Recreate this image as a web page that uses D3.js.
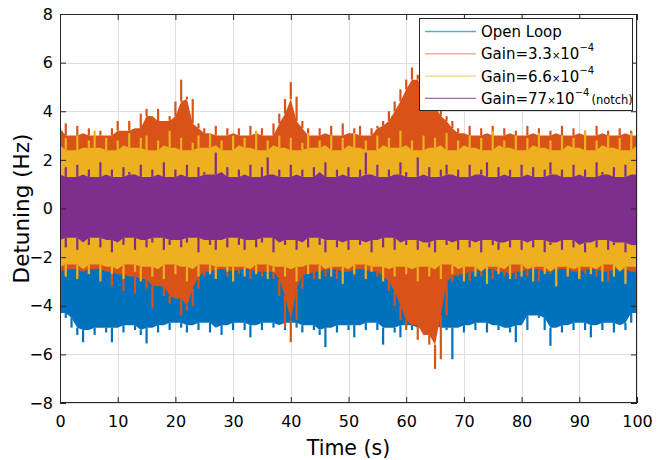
<!DOCTYPE html>
<html>
<head>
<meta charset="utf-8">
<script src="https://cdn.jsdelivr.net/npm/d3@7"></script>
<style>
  html, body { margin: 0; padding: 0; background: #fff; }
  svg { display: block; }
  text { font-family: "DejaVu Sans", "Liberation Sans", sans-serif; fill: #000; }
</style>
</head>
<body>
<svg id="chart" width="657" height="460"></svg>
<script>
// Detuning traces, reduced to per-second peak envelopes (upper / lower), t = 0..100 s.
const timeSec = d3.range(0, 101, 1);

const openLoopHi = [
  1.8, 1.6, 2.0, 1.7, 1.9, 1.6, 2.1, 1.7, 1.8, 1.6,
  1.9, 1.7, 2.0, 1.6, 1.8, 1.7, 2.1, 1.6, 1.9, 1.7,
  1.8, 1.6, 2.0, 1.7, 1.9, 1.6, 1.8, 2.1, 1.7, 1.9,
  1.6, 1.8, 1.7, 2.0, 1.6, 1.9, 1.7, 1.8, 2.1, 1.6,
  1.9, 1.7, 1.8, 1.6, 2.0, 1.7, 1.9, 1.6, 1.8, 2.1,
  1.7, 1.9, 1.6, 1.8, 1.7, 2.0, 1.6, 1.9, 1.7, 1.8,
  2.1, 1.6, 1.9, 1.7, 1.8, 1.6, 2.0, 1.7, 1.9, 1.6,
  1.8, 1.7, 2.1, 1.6, 1.9, 1.7, 1.8, 1.6, 2.0, 1.7,
  1.9, 1.6, 1.8, 2.1, 1.7, 1.9, 1.6, 1.8, 1.7, 2.0,
  1.6, 1.9, 1.7, 1.8, 2.1, 1.6, 1.9, 1.7, 1.8, 1.6,
  1.9
];
const openLoopLo = [
  -4.3, -4.5, -4.9, -5.2, -5.5, -5.0, -5.2, -4.9, -5.1, -5.5,
  -4.9, -5.1, -4.8, -5.0, -5.2, -5.55, -4.9, -5.1, -4.8, -5.0,
  -4.7, -4.9, -5.1, -4.8, -5.0, -4.7, -5.1, -4.9, -5.2, -4.8,
  -5.0, -4.7, -5.0, -5.3, -4.8, -5.0, -4.7, -4.9, -4.8, -5.0,
  -4.7, -4.9, -5.1, -4.8, -5.0, -5.2, -5.7, -4.9, -5.1, -4.8,
  -5.0, -5.3, -4.8, -5.0, -4.7, -5.0, -5.6, -4.9, -5.1, -5.3,
  -4.8, -5.0, -4.9, -5.1, -4.8, -5.0, -4.9, -5.0, -6.2, -4.9,
  -5.1, -4.8, -5.0, -4.7, -5.1, -4.8, -5.0, -4.9, -5.1, -5.5,
  -4.8, -5.0, -4.4, -4.5, -5.0, -5.65, -4.9, -5.1, -4.8, -5.0,
  -4.7, -5.0, -5.3, -4.8, -5.0, -4.7, -5.1, -4.8, -5.0, -4.7,
  -4.3
];

const gain33Hi = [
  3.3, 3.5, 3.0, 3.4, 3.1, 3.3, 3.0, 3.2, 3.0, 3.3,
  3.6, 3.2, 3.6, 3.3, 3.9, 4.1, 3.8, 4.1, 3.6, 3.8,
  4.4, 5.3, 4.6, 4.5, 3.5, 3.3, 3.1, 3.4, 3.0, 3.3,
  3.1, 3.3, 3.0, 3.4, 3.1, 3.3, 3.0, 3.5, 3.9, 4.5,
  5.2, 4.6, 3.6, 3.3, 3.0, 3.3, 3.1, 3.4, 3.0, 3.5,
  3.1, 3.3, 3.4, 3.0, 3.3, 3.4, 3.6, 4.0, 4.4, 4.9,
  5.3, 5.8, 5.5, 5.3, 5.0, 4.6, 4.2, 3.8, 3.6, 3.3,
  3.1, 3.4, 3.0, 3.3, 3.1, 3.4, 3.0, 3.3, 3.1, 3.2,
  3.0, 3.4, 3.1, 3.3, 3.0, 3.2, 3.1, 3.4, 3.0, 3.3,
  3.1, 3.2, 3.0, 3.4, 3.1, 3.2, 3.0, 3.3, 3.1, 3.2,
  3.0
];
const gain33Lo = [
  -2.6, -2.8, -2.5, -2.9, -2.6, -2.7, -2.5, -2.8, -2.6, -3.2,
  -2.7, -3.4, -2.8, -3.5, -2.9, -3.3, -4.1, -3.2, -3.6, -3.9,
  -3.7, -4.4, -4.2, -4.0, -3.3, -2.8, -2.6, -2.9, -2.5, -2.8,
  -2.6, -2.7, -2.5, -2.9, -2.6, -2.8, -2.6, -2.9, -3.6, -4.9,
  -5.5, -4.6, -3.3, -2.7, -2.9, -2.6, -2.8, -2.5, -2.9, -2.7,
  -2.6, -2.8, -2.5, -2.9, -2.6, -2.8, -3.0, -3.4, -4.0, -4.6,
  -5.0, -4.8, -5.4, -5.2, -5.6, -6.6, -6.2, -4.4, -3.0, -2.8,
  -2.7, -3.0, -2.6, -2.8, -2.5, -2.9, -2.6, -2.8, -2.7, -2.9,
  -2.6, -2.8, -2.5, -3.0, -2.6, -2.7, -2.9, -2.5, -2.8, -2.6,
  -2.9, -2.7, -2.5, -2.8, -2.6, -3.0, -2.7, -2.5, -2.8, -2.6,
  -2.7
];

const gain66Hi = [
  2.6, 2.9, 2.4, 3.0, 2.5, 2.8, 3.2, 2.5, 2.9, 2.4,
  2.8, 2.6, 3.1, 2.5, 2.9, 3.0, 2.4, 2.8, 2.6, 3.2,
  2.5, 2.9, 2.4, 2.7, 3.0, 2.5, 3.1, 2.6, 2.8, 2.4,
  3.0, 2.6, 2.9, 2.5, 3.2, 2.4, 2.8, 2.6, 3.0, 2.5,
  2.9, 2.4, 2.7, 3.1, 2.5, 2.8, 2.6, 3.0, 2.4, 2.9,
  2.6, 3.1, 2.5, 2.8, 2.4, 3.0, 2.6, 2.9, 2.5, 3.2,
  2.6, 2.8, 2.4, 3.0, 2.5, 2.9, 2.6, 3.1, 2.4, 2.8,
  2.6, 3.0, 2.5, 2.9, 2.4, 3.2, 2.6, 2.8, 2.5, 3.0,
  2.4, 2.9, 2.6, 3.1, 2.5, 2.8, 2.4, 3.0, 2.6, 2.9,
  2.5, 3.2, 2.4, 2.8, 2.6, 3.0, 2.5, 2.9, 2.4, 3.1,
  2.6
];
const gain66Lo = [
  -2.4, -2.8, -2.3, -2.9, -2.5, -2.7, -2.3, -3.0, -2.4, -2.7,
  -2.5, -2.9, -2.3, -2.6, -3.0, -2.4, -2.8, -2.5, -2.9, -2.3,
  -2.7, -2.4, -3.0, -2.5, -2.8, -2.3, -2.7, -2.9, -2.4, -2.6,
  -3.0, -2.4, -2.8, -2.5, -2.7, -2.3, -2.9, -2.6, -2.4, -2.8,
  -2.5, -3.0, -2.4, -2.7, -2.3, -2.9, -2.5, -2.8, -2.4, -3.1,
  -2.5, -2.7, -2.3, -2.9, -2.6, -2.4, -3.0, -2.5, -2.8, -2.4,
  -2.7, -2.5, -3.0, -2.4, -2.8, -2.5, -2.9, -2.3, -2.7, -2.5,
  -3.0, -2.4, -2.8, -2.6, -3.1, -2.4, -2.7, -2.5, -2.9, -2.3,
  -2.8, -2.5, -3.0, -2.4, -2.7, -2.6, -3.2, -2.4, -2.8, -2.5,
  -2.9, -2.4, -2.7, -2.5, -3.0, -2.3, -2.8, -2.6, -3.1, -2.4,
  -2.7
];

const gain77Hi = [
  1.4, 1.7, 1.3, 1.8, 1.4, 1.6, 1.3, 1.9, 1.4, 1.6,
  1.3, 1.7, 1.5, 1.4, 1.8, 1.3, 1.6, 1.4, 1.9, 1.3,
  1.6, 1.4, 1.8, 1.3, 1.7, 1.5, 1.4, 2.3, 1.5, 1.7,
  1.3, 1.6, 1.4, 1.8, 1.3, 1.7, 2.1, 1.4, 1.6, 1.3,
  1.8, 1.4, 1.6, 1.3, 1.7, 1.5, 1.9, 1.3, 1.6, 1.4,
  1.7, 1.3, 1.6, 2.3, 1.4, 1.8, 1.3, 1.6, 1.4, 1.9,
  1.5, 1.3, 2.1, 1.4, 1.7, 1.3, 1.6, 1.8, 1.4, 1.6,
  1.3, 1.8, 1.4, 1.6, 1.9, 1.3, 1.7, 1.4, 1.6, 1.3,
  1.8, 1.4, 1.7, 1.3, 1.6, 1.9, 1.4, 1.6, 1.3, 1.8,
  1.4, 1.6, 1.3, 1.9, 1.5, 1.4, 1.7, 1.3, 1.8, 1.4,
  1.6
];
const gain77Lo = [
  -1.3, -1.6, -1.2, -1.7, -1.4, -1.5, -1.2, -1.6, -1.3, -1.8,
  -1.4, -1.5, -1.2, -1.7, -1.3, -1.6, -1.4, -1.2, -1.7, -1.5,
  -1.3, -1.6, -1.4, -1.2, -1.8, -1.3, -1.5, -1.7, -1.3, -1.6,
  -1.2, -1.5, -1.7, -1.3, -1.6, -1.4, -1.2, -1.8, -1.4, -1.5,
  -1.3, -1.7, -1.4, -1.6, -1.2, -1.5, -1.8, -1.3, -1.6, -1.4,
  -1.7, -1.3, -1.5, -1.4, -1.8, -1.3, -1.6, -1.2, -1.7, -1.4,
  -1.5, -1.3, -1.7, -1.4, -1.6, -1.8, -1.3, -1.5, -1.4, -1.7,
  -1.3, -1.6, -1.4, -1.8, -1.3, -1.5, -1.7, -1.4, -1.6, -1.3,
  -1.7, -1.4, -1.6, -1.3, -1.8, -1.5, -1.4, -1.7, -1.3, -1.6,
  -1.5, -1.8, -1.4, -1.6, -1.3, -1.7, -1.5, -1.4, -1.8, -1.5,
  -1.6
];

const xTicks = [0, 10, 20, 30, 40, 50, 60, 70, 80, 90, 100];
const yTicks = [-8, -6, -4, -2, 0, 2, 4, 6, 8];

const series = [
  { name: "Open Loop", hi: openLoopHi, lo: openLoopLo, color: "#0072BD", legendColor: "#5fa5db" },
  { name: "Gain=3.3", exp: "−4", hi: gain33Hi, lo: gain33Lo, color: "#D95319", legendColor: "#eea282" },
  { name: "Gain=6.6", exp: "−4", hi: gain66Hi, lo: gain66Lo, color: "#EDB120", legendColor: "#f7d37e" },
  { name: "Gain=77", exp: "−4", note: "(notch)", hi: gain77Hi, lo: gain77Lo, color: "#7E2F8E", legendColor: "#a564b4" }
];

const svg = d3.select("#chart");
const plot = { left: 60, right: 637, top: 14, bottom: 403 };

const x = d3.scaleLinear().domain([0, 100]).range([plot.left, plot.right]);
const y = d3.scaleLinear().domain([-8, 8]).range([plot.bottom, plot.top]);

// grid
const grid = svg.append("g").attr("stroke", "#dedede").attr("stroke-width", 1);
grid.selectAll("line.v").data(xTicks).join("line")
  .attr("x1", d => Math.round(x(d)) + 0.5).attr("x2", d => Math.round(x(d)) + 0.5)
  .attr("y1", plot.top).attr("y2", plot.bottom);
grid.selectAll("line.h").data(yTicks).join("line")
  .attr("y1", d => Math.round(y(d)) + 0.5).attr("y2", d => Math.round(y(d)) + 0.5)
  .attr("x1", plot.left).attr("x2", plot.right);

// traces, drawn in plotting order so later gains sit on top
svg.append("clipPath").attr("id", "plotClip").append("rect")
  .attr("x", plot.left).attr("y", plot.top)
  .attr("width", plot.right - plot.left).attr("height", plot.bottom - plot.top);

const traces = svg.append("g").attr("clip-path", "url(#plotClip)");
series.forEach(s => {
  const n = timeSec.length;
  // dense core of the trace: the lowest peak among neighbouring seconds
  const coreHi = timeSec.map((t, i) => d3.min([s.hi[Math.max(0, i - 1)], s.hi[i], s.hi[Math.min(n - 1, i + 1)]]));
  const coreLo = timeSec.map((t, i) => d3.max([s.lo[Math.max(0, i - 1)], s.lo[i], s.lo[Math.min(n - 1, i + 1)]]));
  const core = d3.area()
    .x((d, i) => x(timeSec[i]))
    .y0((d, i) => y(coreLo[i]))
    .y1((d, i) => y(coreHi[i]))
    .curve(d3.curveLinear);
  const g = traces.append("g");
  g.append("path")
    .datum(timeSec)
    .attr("d", core)
    .attr("fill", s.color);
  // excursions reaching each second's peak
  g.selectAll("line.up").data(timeSec).join("line")
    .attr("x1", (d, i) => x(d)).attr("x2", (d, i) => x(d))
    .attr("y1", (d, i) => y(coreHi[i])).attr("y2", (d, i) => y(s.hi[i]))
    .attr("stroke", s.color).attr("stroke-width", 2.2);
  g.selectAll("line.dn").data(timeSec).join("line")
    .attr("x1", (d, i) => x(d)).attr("x2", (d, i) => x(d))
    .attr("y1", (d, i) => y(coreLo[i])).attr("y2", (d, i) => y(s.lo[i]))
    .attr("stroke", s.color).attr("stroke-width", 2.2);
});

// axes
const axisColor = "#262626";
const xAxis = svg.append("g").attr("transform", `translate(0,${plot.bottom})`)
  .call(d3.axisBottom(x).tickValues(xTicks).tickSizeInner(-6).tickSizeOuter(0).tickPadding(13));
const xAxisTop = svg.append("g").attr("transform", `translate(0,${plot.top})`)
  .call(d3.axisTop(x).tickValues(xTicks).tickSizeInner(-6).tickSizeOuter(0).tickFormat(""));
const yAxis = svg.append("g").attr("transform", `translate(${plot.left},0)`)
  .call(d3.axisLeft(y).tickValues(yTicks).tickSizeInner(-6).tickSizeOuter(0).tickPadding(7));
const yAxisRight = svg.append("g").attr("transform", `translate(${plot.right},0)`)
  .call(d3.axisRight(y).tickValues(yTicks).tickSizeInner(-6).tickSizeOuter(0).tickFormat(""));

[xAxis, xAxisTop, yAxis, yAxisRight].forEach(g => {
  g.select(".domain").remove();
  g.selectAll(".tick line").attr("stroke", axisColor).attr("stroke-width", 1);
  g.selectAll(".tick text")
    .attr("fill", "#000")
    .style("font-family", "'DejaVu Sans', sans-serif")
    .style("font-size", "16px");
});

svg.append("rect")
  .attr("x", plot.left + 0.5).attr("y", plot.top + 0.5)
  .attr("width", plot.right - plot.left - 1).attr("height", plot.bottom - plot.top - 1)
  .attr("fill", "none").attr("stroke", axisColor).attr("stroke-width", 1);

// axis titles
svg.append("text")
  .attr("x", (plot.left + plot.right) / 2).attr("y", 455)
  .attr("text-anchor", "middle")
  .style("font-size", "20.5px")
  .text("Time (s)");

svg.append("text")
  .attr("transform", `translate(29,${(plot.top + plot.bottom) / 2}) rotate(-90)`)
  .attr("text-anchor", "middle")
  .style("font-size", "21.5px")
  .text("Detuning (Hz)");

// legend
const legend = svg.append("g");
legend.append("rect")
  .attr("x", 419.5).attr("y", 18.5).attr("width", 213).attr("height", 92)
  .attr("fill", "#fff").attr("stroke", axisColor).attr("stroke-width", 1);

series.forEach((s, i) => {
  const cy = 31.5 + i * 22.3;
  legend.append("line")
    .attr("x1", 425).attr("x2", 476).attr("y1", cy).attr("y2", cy)
    .attr("stroke", s.legendColor).attr("stroke-width", 1.3);
  const t = legend.append("text")
    .attr("x", 481).attr("y", cy + 5.5)
    .style("font-size", "15px");
  t.append("tspan").text(s.name);
  if (s.exp) {
    t.append("tspan").style("font-size", "10px").text("×");
    t.append("tspan").text("10");
    t.append("tspan").style("font-size", "10px").attr("dy", -8).text(s.exp);
    if (s.note) {
      t.append("tspan").style("font-size", "11.5px").attr("dx", 2).attr("dy", 8).text(s.note);
    }
  }
});
</script>
</body>
</html>
